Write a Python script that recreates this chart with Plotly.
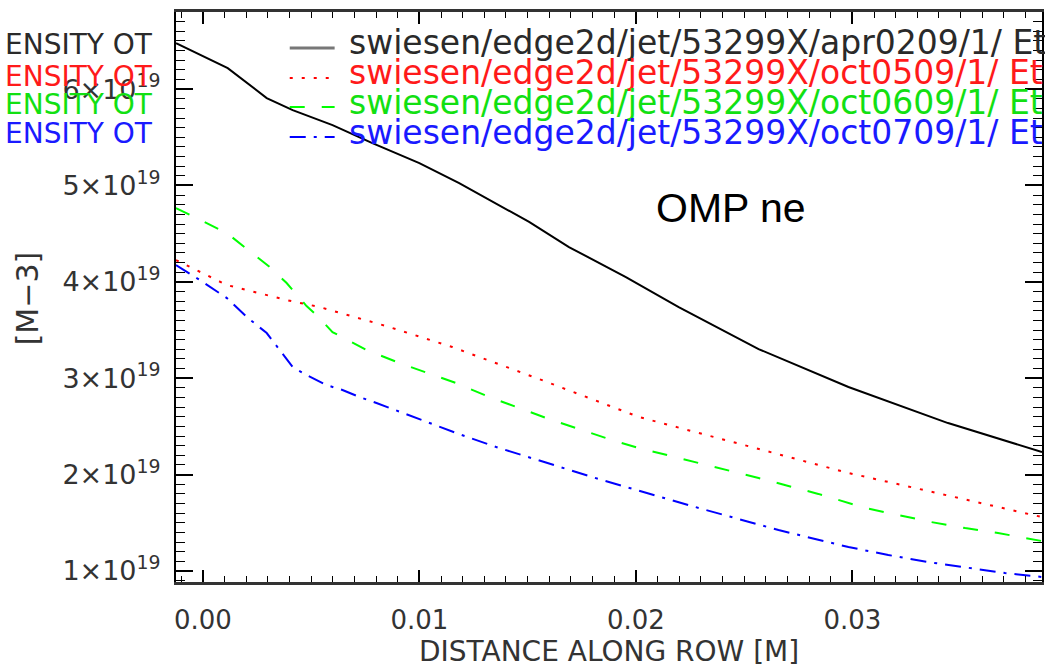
import plotly.graph_objects as go

# Distance along the outer-midplane row [m] and electron density [m^-3]
dist_black = [-0.00124, 0.00115, 0.00295, 0.00415, 0.00599, 0.00783, 0.0100, 0.01184,
              0.01507, 0.01691, 0.01954, 0.02198, 0.02567, 0.02982, 0.03442, 0.03876]
ne_black = [6.477e19, 6.218e19, 5.907e19, 5.782e19, 5.627e19, 5.440e19, 5.232e19, 5.025e19,
            4.622e19, 4.361e19, 4.050e19, 3.739e19, 3.303e19, 2.909e19, 2.535e19, 2.234e19]

dist_red = [-0.00124, 0.00111, 0.00387, 0.00447, 0.00539, 0.00848, 0.01152, 0.01553,
            0.02014, 0.02535, 0.02982, 0.0329, 0.03594, 0.03876]
ne_red = [4.226e19, 3.967e19, 3.811e19, 3.780e19, 3.739e19, 3.541e19, 3.324e19, 2.992e19,
          2.598e19, 2.286e19, 2.017e19, 1.861e19, 1.705e19, 1.560e19]

dist_green = [-0.00124, 0.00111, 0.00309, 0.00387, 0.00479, 0.00525, 0.00599, 0.00756,
              0.00908, 0.0106, 0.0117, 0.01323, 0.01461, 0.01599, 0.01751, 0.01889,
              0.02014, 0.0229, 0.02567, 0.02843, 0.0306, 0.03212, 0.03364, 0.03521,
              0.03673, 0.03876]
ne_green = [4.766e19, 4.506e19, 4.154e19, 3.988e19, 3.749e19, 3.656e19, 3.479e19, 3.293e19,
            3.158e19, 3.033e19, 2.950e19, 2.805e19, 2.691e19, 2.577e19, 2.463e19, 2.359e19,
            2.276e19, 2.120e19, 1.965e19, 1.800e19, 1.654e19, 1.581e19, 1.508e19, 1.446e19,
            1.394e19, 1.311e19]

dist_blue = [-0.00124, -0.00014, 0.00111, 0.00203, 0.00295, 0.00364, 0.00415, 0.00479,
             0.00571, 0.00645, 0.00724, 0.00802, 0.00876, 0.00968, 0.0106, 0.0117,
             0.01355, 0.01829, 0.0229, 0.02659, 0.02982, 0.03166, 0.0335, 0.03521,
             0.03705, 0.03876]
ne_blue = [4.174e19, 4.019e19, 3.832e19, 3.635e19, 3.469e19, 3.272e19, 3.116e19, 3.033e19,
           2.929e19, 2.878e19, 2.805e19, 2.743e19, 2.680e19, 2.598e19, 2.525e19, 2.432e19,
           2.286e19, 1.954e19, 1.654e19, 1.425e19, 1.249e19, 1.166e19, 1.093e19, 1.041e19,
           0.979e19, 0.938e19]

run_names = [
    "swiesen/edge2d/jet/53299X/apr0209/1/ Et",
    "swiesen/edge2d/jet/53299X/oct0509/1/ Et",
    "swiesen/edge2d/jet/53299X/oct0609/1/ Et",
    "swiesen/edge2d/jet/53299X/oct0709/1/ Et",
]
side_label = "ENSITY OT"

y_tickvals = [1e19, 2e19, 3e19, 4e19, 5e19, 6e19]
y_ticktext = ["1×10<sup>19</sup>", "2×10<sup>19</sup>", "3×10<sup>19</sup>",
              "4×10<sup>19</sup>", "5×10<sup>19</sup>", "6×10<sup>19</sup>"]

colors = ["#000000", "#ff0000", "#00ff00", "#0000ff"]
text_colors = ["#2a2a2a", "#ff1a1a", "#12e012", "#1a1aff"]
dashes = ["solid", "3px,9px", "15px,17px", "16px,8px,3px,8px"]

FONT = "DejaVu Sans"
W, H = 1045, 669
L, R, T, B = 176, 1, 12, 87
PW, PH = W - L - R, H - T - B


def px(x):
    return (x - L) / PW


def py(y):
    return (H - B - y) / PH


fig = go.Figure()
series = [(dist_black, ne_black), (dist_red, ne_red), (dist_green, ne_green), (dist_blue, ne_blue)]
for (xs, ys), c, d in zip(series, colors, dashes):
    fig.add_trace(go.Scatter(x=xs, y=ys, mode="lines",
                             line=dict(color=c, width=2, dash=d), showlegend=False))

annotations = []
shapes = []

# legend block: sample line + run path
legend_text_y = [42, 72, 102, 132]
legend_line_y = [48, 78, 107, 137]
side_y = [45, 76, 105, 133]
for i in range(4):
    shapes.append(dict(type="line", xref="paper", yref="paper",
                       x0=px(290), x1=px(335), y0=py(legend_line_y[i]), y1=py(legend_line_y[i]),
                       line=dict(color="#777777" if i == 0 else colors[i],
                                 width=3 if i == 0 else 2, dash=dashes[i])))
    annotations.append(dict(text=run_names[i], xref="paper", yref="paper",
                            x=px(347), y=py(legend_text_y[i]), xanchor="left", yanchor="middle",
                            showarrow=False, font=dict(family=FONT, size=33, color=text_colors[i])))
    annotations.append(dict(text=side_label, xref="paper", yref="paper",
                            x=px(3), y=py(side_y[i]), xanchor="left", yanchor="middle",
                            showarrow=False, font=dict(family=FONT, size=28, color=text_colors[i])))

annotations.append(dict(text="OMP ne", xref="paper", yref="paper", x=px(732), y=py(208),
                        xanchor="center", yanchor="middle", showarrow=False,
                        font=dict(family="Liberation Sans", size=41, color="#000000")))
annotations.append(dict(text="DISTANCE ALONG ROW [M]", xref="paper", yref="paper",
                        x=px(610), y=py(651), xanchor="center", yanchor="middle",
                        showarrow=False, font=dict(family=FONT, size=28, color="#333333")))
annotations.append(dict(text="[M−3]", xref="paper", yref="paper", x=px(27), y=py(298),
                        xanchor="center", yanchor="middle", textangle=-90, showarrow=False,
                        font=dict(family=FONT, size=30, color="#333333")))

fig.update_layout(
    width=W, height=H,
    margin=dict(l=L, r=R, t=T, b=B, pad=0),
    paper_bgcolor="white", plot_bgcolor="white",
    annotations=annotations, shapes=shapes,
    xaxis=dict(range=[-0.00124, 0.03876], tickmode="linear", tick0=0, dtick=0.01,
               tickformat=".2f", ticks="inside", ticklen=12, tickwidth=1.5, tickcolor="#000",
               minor=dict(ticks="inside", tickmode="linear", tick0=0, dtick=0.001,
                          ticklen=6, tickwidth=1.2, tickcolor="#000"),
               showline=True, linecolor="#333", linewidth=2.5, mirror="ticks",
               showgrid=False, zeroline=False, ticklabelstandoff=13,
               tickfont=dict(family=FONT, size=26, color="#333333")),
    yaxis=dict(range=[0.886e19, 6.80e19], tickmode="array", tickvals=y_tickvals,
               ticktext=y_ticktext, ticks="inside", ticklen=17, tickwidth=1.5, tickcolor="#000",
               minor=dict(ticks="inside", tickmode="linear", tick0=0, dtick=1e18,
                          ticklen=9, tickwidth=1.2, tickcolor="#000"),
               showline=True, linecolor="#000", linewidth=2, mirror="ticks",
               showgrid=False, zeroline=False, ticklabelstandoff=8,
               tickfont=dict(family=FONT, size=27, color="#333333")),
)

fig.write_html("out.html")
